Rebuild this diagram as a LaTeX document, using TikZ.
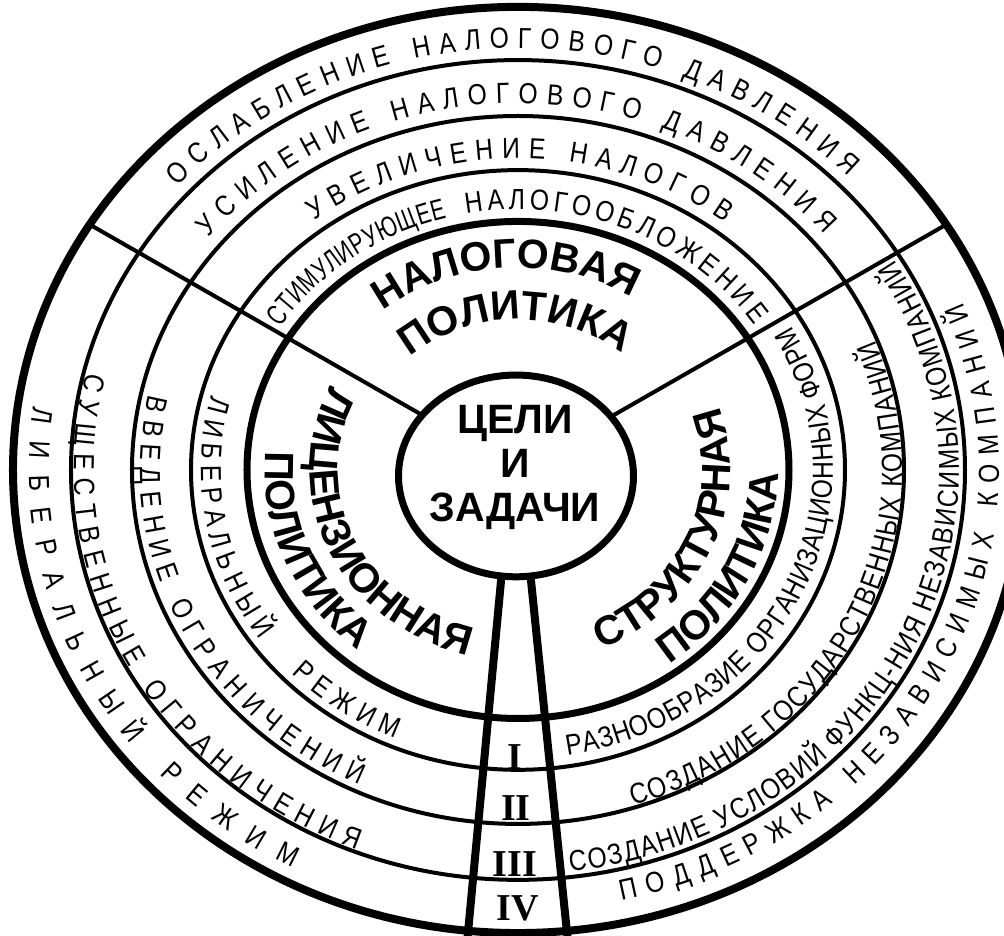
\documentclass[tikz,border=0pt]{standalone}
\usepackage{fontspec}
\setmainfont{Liberation Sans}
\newfontfamily\ringfont{Liberation Sans}[FakeStretch=0.85]
\newfontfamily\tightfont{Liberation Sans}[FakeStretch=0.72]
\newfontfamily\romanfont{Liberation Serif}
\newcommand\ringfs{\fontsize{29}{31}\selectfont}
\newcommand\labelfs{\fontsize{41}{44}\selectfont}
\newcommand\numfs{\fontsize{38}{40}\selectfont}
\usepackage{xcolor}
\definecolor{ink}{HTML}{000000}
\usepackage{tikz}
\usetikzlibrary{decorations.text}
\tikzset{
  rim/.style={draw=ink,line width=8pt},
  ringline/.style={draw=ink,line width=4pt},
  sector/.style={draw=ink,line width=7pt},
  spokeline/.style={draw=ink,line width=4pt},
  channel/.style={draw=ink,line width=8pt},
  ringtext/.style={decorate,decoration={text along path,text align=fit to path,
    text={|\ringfont\ringfs|#1}}},
  tighttext/.style={decorate,decoration={text along path,text align=fit to path,
    text={|\tightfont\ringfs|#1}}},
  bigtext/.style={decorate,decoration={text along path,text align=center,
    text={|\bfseries\labelfs|#1}}},
  numeral/.style={font=\romanfont\bfseries\numfs,inner sep=0pt,text=ink},
}

\begin{document}
\begin{tikzpicture}[x=1pt,y=0.917pt]
  \useasboundingbox (-518,-508.2) rectangle (486,512.5);
  \clip (-518,-508.2) rectangle (486,512.5);
  \foreach \r in {327,386,447} \draw[ringline] (0,0) circle[radius=\r];
  \draw[rim] (0,0) circle[radius=505];
  \draw[sector] (0,0) circle[radius=271];
  \draw[spokeline] (148:100) coordinate (sl) -- (148:505) coordinate (sl');
  \draw[spokeline] (32:100) coordinate (sr) -- (32:505) coordinate (sr');
  \draw[channel] (-16.2,-112) coordinate (cl) -- (-52.2,-530) coordinate (cl');
  \draw[channel] (12.2,-112) coordinate (cr) -- (51.4,-530) coordinate (cr');
  \draw[sector,fill=white] (-2,-6.5) circle[x radius=117.5,y radius=110];
  \node[font=\bfseries\labelfs,align=center] (goal) at (-3,2.2) {ЦЕЛИ\\И\\ЗАДАЧИ};

  \path[ringtext={ОСЛАБЛЕНИЕ НАЛОГОВОГО ДАВЛЕНИЯ}] (137.7:460) arc[start angle=137.7,end angle=44,radius=460];
  \path[ringtext={УСИЛЕНИЕ НАЛОГОВОГО ДАВЛЕНИЯ}] (140.6:400) arc[start angle=140.6,end angle=40,radius=400];
  \path[ringtext={УВЕЛИЧЕНИЕ НАЛОГОВ}] (126.8:340) arc[start angle=126.8,end angle=52.6,radius=340];
  \path[tighttext={СТИМУЛИРУЮЩЕЕ}] (146.8:284) arc[start angle=146.8,end angle=104.5,radius=284];
  \path[ringtext={НАЛОГООБЛОЖЕНИЕ}] (100.5:284) arc[start angle=100.5,end angle=33.8,radius=284];

  \path[ringtext={ЛИБЕРАЛЬНЫЙ РЕЖИМ}] (171.9:489) arc[start angle=171.9,end angle=242.5,radius=489];
  \path[ringtext={СУЩЕСТВЕННЫЕ ОГРАНИЧЕНИЯ}] (166.2:444) arc[start angle=166.2,end angle=248.7,radius=444];
  \path[ringtext={ВВЕДЕНИЕ ОГРАНИЧЕНИЙ}] (167.5:378) arc[start angle=167.5,end angle=245.2,radius=378];
  \path[ringtext={ЛИБЕРАЛЬНЫЙ}] (165.2:317) arc[start angle=165.2,end angle=215.6,radius=317];
  \path[ringtext={РЕЖИМ}] (224.4:317) arc[start angle=224.4,end angle=247.3,radius=317];

  \path[ringtext={РАЗНООБРАЗИЕ ОРГАНИЗАЦИОННЫХ ФОРМ}] (-81:315) arc[start angle=-81,end angle=30,radius=315];
  \path[ringtext={СОЗДАНИЕ ГОСУДАРСТВЕННЫХ КОМПАНИЙ}] (-72.5:384) arc[start angle=-72.5,end angle=21.7,radius=384];
  \path[ringtext={СОЗДАНИЕ УСЛОВИЙ ФУНКЦ-НИЯ НЕЗАВИСИМЫХ КОМПАНИЙ}] (-83.2:441) arc[start angle=-83.2,end angle=31.4,radius=441];
  \path[ringtext={ПОДДЕРЖКА НЕЗАВИСИМЫХ КОМПАНИЙ}] (-77.6:481) arc[start angle=-77.6,end angle=22.4,radius=481];

  \path[bigtext={НАЛОГОВАЯ}] (163.5:220.5) arc[start angle=163.5,end angle=23.5,radius=220.5];
  \path[bigtext={ПОЛИТИКА}] (160.9:164) arc[start angle=160.9,end angle=20.9,radius=164];
  \path[bigtext={ЛИЦЕНЗИОННАЯ}] (124.2:208) arc[start angle=124.2,end angle=284.2,radius=208];
  \path[bigtext={ПОЛИТИКА}] (121.9:253) arc[start angle=121.9,end angle=281.9,radius=253];
  \path[bigtext={СТРУКТУРНАЯ}] (-103:212) arc[start angle=-103,end angle=57,radius=212];
  \path[bigtext={ПОЛИТИКА}] (-106:260) arc[start angle=-106,end angle=54,radius=260];

  \node[numeral] (r1) at (-3,-313) {I};
  \node[numeral] (r2) at (-2,-368.6) {II};
  \node[numeral] (r3) at (-3,-429.7) {III};
  \node[numeral] (r4) at (0,-477.6) {IV};
\end{tikzpicture}
\end{document}
